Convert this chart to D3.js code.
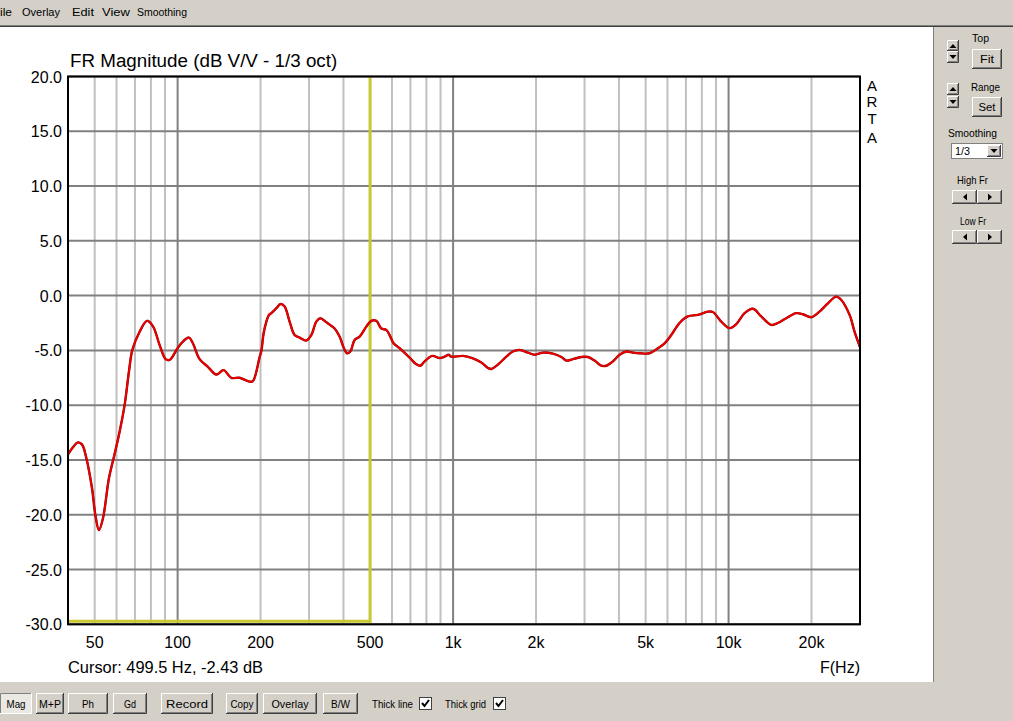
<!DOCTYPE html>
<html><head><meta charset="utf-8">
<script src="https://cdn.jsdelivr.net/npm/d3@7"></script>
<style>
html,body{margin:0;padding:0;background:#fff;}
svg{display:block;}
</style></head>
<body>
<svg id="c" width="1013" height="721"></svg>
<script>
// ---- data ----
const freqs = [40,41.5,43.5,45,46.6,48.9,50.4,51.8,53.6,56.3,59.0,61.6,64.2,66.6,68.5,72.8,77.4,81.4,86.0,90.5,93.5,100,104.5,109.9,113.6,120.2,128.8,138.2,146.9,156.6,167.9,182.5,187.7,198.5,201.5,205,210,214.5,218.8,228.2,236.6,244.6,255,265.9,277.3,293.1,305.7,318.8,329.6,346.6,371.5,387.3,401.5,411.7,423.6,439.1,457.8,484.2,504.7,526.3,548.8,572.2,588.1,608.1,639.4,695,735.2,760.3,788.1,840.5,893.2,931.4,963.1,985,1085,1174,1266,1338,1376,1454,1560,1648,1743,1869,1977,2119,2303,2471,2576,2723,2920,3086,3263,3451,3597,3803,4021,4253,4495,4753,5168,5540,5858,6194,6637,7118,7737,8414,8770,9408,10083,10665,11431,12252,13140,14289,15101,16196,17610,18609,19962,21394,22941,24604,25661,27503,28674,30000];
const magDb = [-14.5,-13.9,-13.4,-13.6,-14.8,-17.6,-20.2,-21.4,-20.3,-16.7,-14.5,-12.4,-10.0,-6.9,-4.95,-3.3,-2.3,-2.8,-4.5,-5.8,-5.87,-4.8,-4.2,-3.83,-4.35,-5.8,-6.5,-7.2,-6.8,-7.5,-7.5,-7.85,-7.8,-5.6,-5.0,-3.5,-2.37,-1.76,-1.6,-1.15,-0.76,-1.0,-2.37,-3.6,-3.83,-4.1,-3.6,-2.37,-2.07,-2.43,-3.0,-3.74,-4.8,-5.26,-5.1,-4.04,-3.74,-2.83,-2.3,-2.3,-3.0,-3.13,-3.6,-4.35,-4.8,-5.66,-6.26,-6.4,-6.0,-5.5,-5.7,-5.57,-5.4,-5.57,-5.5,-5.7,-6.1,-6.6,-6.7,-6.3,-5.57,-5.1,-4.95,-5.2,-5.4,-5.2,-5.3,-5.6,-5.93,-5.8,-5.6,-5.6,-5.93,-6.4,-6.4,-6.0,-5.4,-5.1,-5.2,-5.26,-5.26,-4.8,-4.35,-3.6,-2.5,-1.9,-1.76,-1.46,-1.5,-2.37,-2.97,-2.6,-1.6,-1.2,-1.9,-2.67,-2.5,-2.06,-1.6,-1.7,-1.97,-1.46,-0.7,-0.09,-0.4,-1.76,-3.3,-4.7];
const xTickValues = [50,100,200,500,1000,2000,5000,10000,20000];
const xTickLabels = ["50","100","200","500","1k","2k","5k","10k","20k"];
const xMajorGrid = [100,1000,10000];
const xMinorGrid = [50,60,70,80,90,200,300,400,500,600,700,800,900,2000,3000,4000,5000,6000,7000,8000,9000,20000];
const yTicks = [20,15,10,5,0,-5,-10,-15,-20,-25,-30];
const cursorFreq = 499.5, cursorDb = -2.43;
const menuItems = ["ile","Overlay","Edit","View","Smoothing"];
const bottomButtons = ["Mag","M+P","Ph","Gd","Record","Copy","Overlay","B/W"];

// ---- layout ----
const svg = d3.select("#c");
const L = 68, R = 860, T = 76.5, B = 624.3;
const x = d3.scaleLog().domain([40,30000]).range([L,R]);
const y = d3.scaleLinear().domain([-30,20]).range([B,T]);
const UI = "Liberation Sans, Arial, sans-serif";
const CH = "Liberation Sans, Arial, sans-serif";

function uiText(parent,tx,ty,s,w,anchor="start"){
  const t = parent.append("text").attr("x",tx).attr("y",ty).attr("text-anchor",anchor)
    .attr("font-family",UI).attr("font-size",11.5).attr("fill","#000").text(s);
  if(w) t.attr("textLength",w).attr("lengthAdjust","spacingAndGlyphs");
  return t;
}

// window background
svg.append("rect").attr("x",0).attr("y",0).attr("width",1013).attr("height",721).attr("fill","#d4d0c8");
// menu bar
svg.append("line").attr("x1",0).attr("x2",1013).attr("y1",25.5).attr("y2",25.5).attr("stroke","#808080");
svg.append("line").attr("x1",0).attr("x2",1013).attr("y1",26.5).attr("y2",26.5).attr("stroke","#404040");
const menuX = [0,22,72,102,137];
const menuW = [12,38,22,28,50];
menuItems.forEach((m,i)=>uiText(svg,menuX[i],16,m,menuW[i]));

// chart white area
svg.append("rect").attr("x",0).attr("y",27).attr("width",933).attr("height",655).attr("fill","#fff");
svg.append("line").attr("x1",933.5).attr("x2",933.5).attr("y1",27).attr("y2",682).attr("stroke","#808080");

// grid
const g = svg.append("g");
g.selectAll("line.minor").data(xMinorGrid).enter().append("line")
  .attr("x1",d=>x(d)).attr("x2",d=>x(d)).attr("y1",T).attr("y2",B)
  .attr("stroke","#c0c0c0").attr("stroke-width",2);
g.selectAll("line.hgrid").data(yTicks).enter().append("line")
  .attr("x1",L).attr("x2",R).attr("y1",d=>y(d)).attr("y2",d=>y(d))
  .attr("stroke","#808080").attr("stroke-width",2);
g.selectAll("line.major").data(xMajorGrid).enter().append("line")
  .attr("x1",d=>x(d)).attr("x2",d=>x(d)).attr("y1",T).attr("y2",B)
  .attr("stroke","#808080").attr("stroke-width",2);

// cursor (yellow)
svg.append("line").attr("x1",x(cursorFreq)).attr("x2",x(cursorFreq)).attr("y1",T).attr("y2",B)
  .attr("stroke","#c8c832").attr("stroke-width",3);
svg.append("line").attr("x1",L).attr("x2",x(cursorFreq)).attr("y1",B-3).attr("y2",B-3)
  .attr("stroke","#c8c832").attr("stroke-width",3);

// curve
const data = freqs.map((f,i)=>({f, v: magDb[i]}));
const line = d3.line().x(d=>x(d.f)).y(d=>y(d.v)).curve(d3.curveCatmullRom.alpha(0.5));
svg.append("path").datum(data).attr("d",line).attr("fill","none")
  .attr("stroke","#800000").attr("stroke-width",2.4).attr("stroke-linejoin","round");
svg.append("path").datum(data).attr("d",line).attr("fill","none")
  .attr("stroke","#ec0000").attr("stroke-width",1.8).attr("stroke-linejoin","round");

// frame
svg.append("rect").attr("x",L).attr("y",T).attr("width",R-L).attr("height",B-T)
  .attr("fill","none").attr("stroke","#000").attr("stroke-width",2);

// y axis labels
svg.selectAll("text.yl").data(yTicks).enter().append("text")
  .attr("x",62).attr("y",d=>y(d)+6).attr("text-anchor","end")
  .attr("font-family",CH).attr("font-size",16).attr("fill","#000").text(d=>d.toFixed(1));
// x axis labels
svg.selectAll("text.xl").data(xTickValues).enter().append("text")
  .attr("x",d=>x(d)).attr("y",648).attr("text-anchor","middle")
  .attr("font-family",CH).attr("font-size",16).attr("fill","#000").text((d,i)=>xTickLabels[i]);

// title
svg.append("text").attr("x",70).attr("y",67).attr("font-family",CH).attr("font-size",18.8).attr("fill","#000")
  .text("FR Magnitude (dB V/V - 1/3 oct)");
// ARTA
const artaY = [91,107,124,143];
svg.selectAll("text.arta").data(["A","R","T","A"]).enter().append("text")
  .attr("x",872).attr("y",(d,i)=>artaY[i]).attr("text-anchor","middle")
  .attr("font-family",CH).attr("font-size",15).attr("fill","#000").text(d=>d);
// cursor text
svg.append("text").attr("x",68).attr("y",673).attr("font-family",CH).attr("font-size",16.4).attr("fill","#000")
  .text(`Cursor: ${cursorFreq} Hz, ${cursorDb} dB`);
svg.append("text").attr("x",860).attr("y",673).attr("text-anchor","end").attr("font-family",CH).attr("font-size",16).attr("fill","#000")
  .text("F(Hz)");

// ---- Win classic button helper ----
function button(parent,bx,by,bw,bh,label,opts={}){
  const gb = parent.append("g");
  gb.append("rect").attr("x",bx).attr("y",by).attr("width",bw).attr("height",bh).attr("fill",opts.pressed?"#eae8e2":"#d4d0c8");
  if(opts.pressed){
    gb.append("rect").attr("x",bx+0.5).attr("y",by+0.5).attr("width",bw-1).attr("height",bh-1).attr("fill","none").attr("stroke","#ffffff");
    gb.append("path").attr("d",`M${bx+0.5},${by+bh-1}V${by+0.5}H${bx+bw-1}`).attr("fill","none").attr("stroke","#808080");
  } else {
    gb.append("path").attr("d",`M${bx+0.5},${by+bh-1}V${by+0.5}H${bx+bw-1}`).attr("fill","none").attr("stroke","#ffffff");
    gb.append("path").attr("d",`M${bx},${by+bh-0.5}H${bx+bw-0.5}V${by}`).attr("fill","none").attr("stroke","#404040");
    gb.append("path").attr("d",`M${bx+1},${by+bh-1.5}H${bx+bw-1.5}V${by+1}`).attr("fill","none").attr("stroke","#808080");
  }
  if(label!=null){
    uiText(gb,bx+bw/2,by+bh/2+4,label,opts.tw,"middle");
  }
  if(opts.arrow){
    const cx=Math.round(bx+bw/2), cy=Math.round(by+bh/2);
    let d;
    if(opts.arrow==="up") d=`M${cx-3.5},${cy+2}L${cx+3.5},${cy+2}L${cx},${cy-2}Z`;
    if(opts.arrow==="down") d=`M${cx-3.5},${cy-2}L${cx+3.5},${cy-2}L${cx},${cy+2}Z`;
    if(opts.arrow==="left") d=`M${cx+2},${cy-3.5}L${cx+2},${cy+3.5}L${cx-2},${cy}Z`;
    if(opts.arrow==="right") d=`M${cx-2},${cy-3.5}L${cx-2},${cy+3.5}L${cx+2},${cy}Z`;
    gb.append("path").attr("d",d).attr("fill","#000");
  }
  return gb;
}

// right panel
const rp = svg.append("g");
button(rp,947,40,12,11,null,{arrow:"up"});
button(rp,947,51,12,12,null,{arrow:"down"});
uiText(rp,972,42,"Top",17);
button(rp,972,49,30,20,"Fit",{tw:14});
button(rp,947,83,12,12,null,{arrow:"up"});
button(rp,947,96,12,12,null,{arrow:"down"});
uiText(rp,971,91,"Range",29);
button(rp,972,97,30,20,"Set",{tw:17});
uiText(rp,948,137,"Smoothing",49);
rp.append("rect").attr("x",951.5).attr("y",143.5).attr("width",51).attr("height",15).attr("fill","#fff").attr("stroke","#808080");
uiText(rp,955,155,"1/3",15);
button(rp,987,145,14,12,null,{arrow:"down"});
uiText(rp,957,184,"High Fr",31);
button(rp,952,190,25,14,null,{arrow:"left"});
button(rp,977,190,25,14,null,{arrow:"right"});
uiText(rp,960,225,"Low Fr",26);
button(rp,952,230,25,14,null,{arrow:"left"});
button(rp,977,230,25,14,null,{arrow:"right"});

// bottom bar
const bb = svg.append("g");
const btnX = [0,36,68,113,161,226,263,323];
const btnW = [32,28,40,34,52,32,54,35];
const btnTW = [19,22,12,12,42,23,37,19];
bottomButtons.forEach((b,i)=>button(bb,btnX[i],693,btnW[i],21,b,{pressed:i===0,tw:btnTW[i]}));
uiText(bb,372,708,"Thick line",41);
uiText(bb,445,708,"Thick grid",41);
[419,493].forEach(cx=>{
  bb.append("rect").attr("x",cx+0.5).attr("y",697.5).attr("width",12).attr("height",12).attr("fill","#fff").attr("stroke","#404040");
  bb.append("path").attr("d",`M${cx+3},${703}L${cx+5.5},${706}L${cx+10},${700}`).attr("fill","none").attr("stroke","#000").attr("stroke-width",2);
});
</script>
</body></html>
